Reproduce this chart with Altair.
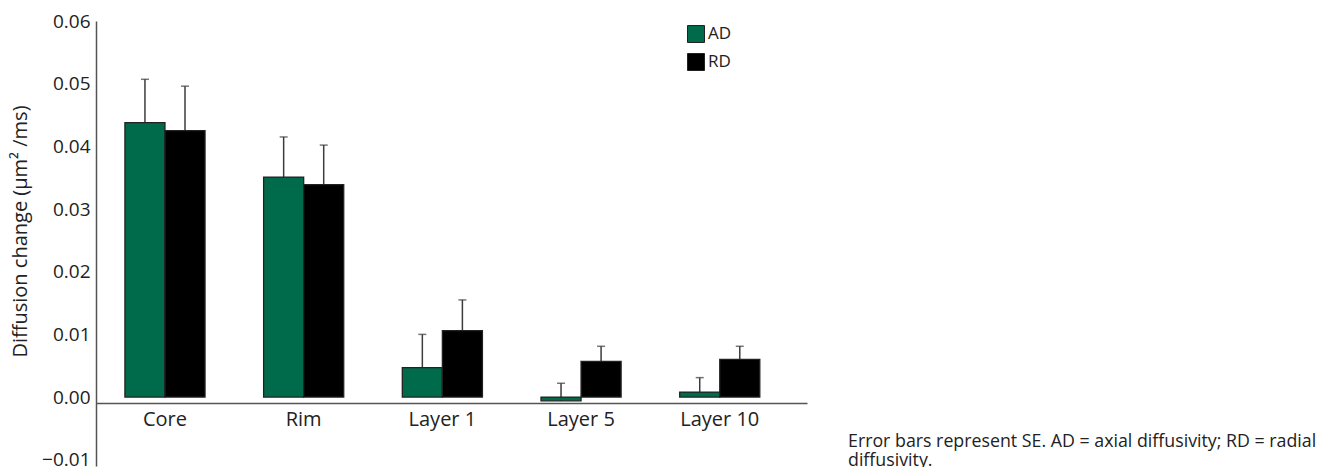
import altair as alt
import pandas as pd

categories = ["Core", "Rim", "Layer 1", "Layer 5", "Layer 10"]
series = ["AD", "RD"]
ad_values = [0.0438, 0.0351, 0.0047, -0.0006, 0.0008]
ad_se = [0.0069, 0.0064, 0.0053, 0.0028, 0.0023]
rd_values = [0.0425, 0.0339, 0.0106, 0.0057, 0.0060]
rd_se = [0.0071, 0.0063, 0.0049, 0.0024, 0.0021]
y_ticks = [-0.01, 0.0, 0.01, 0.02, 0.03, 0.04, 0.05, 0.06]
note_lines = ["Error bars represent SE. AD = axial diffusivity; RD = radial", "diffusivity."]

rows = []
for i, c in enumerate(categories):
    rows.append({"category": c, "series": "AD", "value": ad_values[i], "top": ad_values[i] + ad_se[i], "zero": 0.0})
    rows.append({"category": c, "series": "RD", "value": rd_values[i], "top": rd_values[i] + rd_se[i], "zero": 0.0})
df = pd.DataFrame(rows)

FONT = "Open Sans"
W, H = 711, 445

x_enc = alt.X(
    "category:N",
    sort=categories,
    scale=alt.Scale(paddingInner=0.4224, paddingOuter=0.2744, align=0.38),
    axis=alt.Axis(
        title=None, labelAngle=0, ticks=False, labelFontSize=20, labelFont=FONT,
        labelColor="#222", domainColor="#555", domainWidth=1.5, offset=-63,
        labelPadding=6,
    ),
)
xoff = alt.XOffset("series:N", sort=series, scale=alt.Scale(paddingInner=0, paddingOuter=0))
y_scale = alt.Scale(domain=[-0.011, 0.06], nice=False, zero=False)

err = alt.Chart(df).mark_rule(color="#3c3c3c", strokeWidth=1.5).encode(
    x=x_enc, xOffset=xoff,
    y=alt.Y("value:Q", scale=y_scale),
    y2="top:Q",
)
cap = alt.Chart(df).mark_tick(color="#3c3c3c", thickness=1.5, size=8, orient="horizontal").encode(
    x=x_enc, xOffset=xoff,
    y=alt.Y("top:Q", scale=y_scale),
)
bars = alt.Chart(df).mark_bar(stroke="#222", strokeWidth=1.3).encode(
    x=x_enc, xOffset=xoff,
    y=alt.Y(
        "value:Q", scale=y_scale,
        axis=alt.Axis(
            title="Diffusion change (μm² /ms)", values=y_ticks, format=".2f", ticks=False,
            grid=False, labelFontSize=19, labelFont=FONT, labelColor="#222",
            titleFont=FONT, titleFontSize=20, titleFontWeight="normal", titleColor="#222",
            domainColor="#555", domainWidth=1.5, labelPadding=6, titlePadding=11,
            titleY=210,
        ),
    ),
    y2="zero:Q",
    color=alt.Color(
        "series:N", sort=series,
        scale=alt.Scale(domain=series, range=["#006b4a", "#000000"]),
        legend=alt.Legend(
            title=None, orient="none", legendX=591, legendY=4, symbolType="square",
            symbolSize=289, symbolStrokeColor="#222", symbolStrokeWidth=1,
            labelFont=FONT, labelFontSize=17, labelColor="#222", labelOffset=3,
            rowPadding=6,
        ),
    ),
)

note = alt.Chart(pd.DataFrame({"n": [0]})).mark_text(
    text=note_lines, align="left", baseline="alphabetic", font=FONT, fontSize=17.8,
    lineHeight=19, color="#222",
).encode(x=alt.value(752), y=alt.value(426))

chart = alt.layer(err, cap, bars, note).properties(
    width=W, height=H,
    autosize=alt.AutoSizeParams(type="none"),
    padding={"left": 88, "top": 13, "right": 510, "bottom": 1},
).configure_view(stroke=None)

chart.save("out.html", embed_options={"renderer": "svg", "actions": False})
